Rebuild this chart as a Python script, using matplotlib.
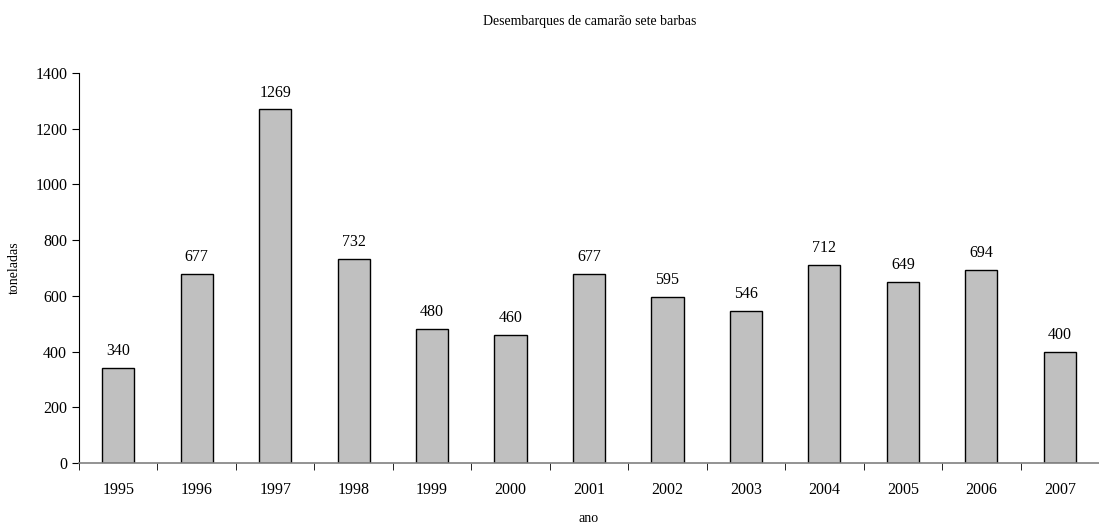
import matplotlib
matplotlib.use("Agg")
from matplotlib import pyplot as plt
import numpy as np

plt.rcParams['font.family'] = ['Liberation Serif', 'DejaVu Serif']

anos = ["1995", "1996", "1997", "1998", "1999", "2000", "2001",
        "2002", "2003", "2004", "2005", "2006", "2007"]
toneladas = [340, 677, 1269, 732, 480, 460, 677, 595, 546, 712, 649, 694, 400]

fig = plt.figure(figsize=(10.99, 5.25), dpi=100)
ax = fig.add_axes([79 / 1099, 62 / 525, 1 - 79 / 1099, 390 / 525])

x = np.arange(len(anos))
ax.bar(x, toneladas, width=0.41, color="#c0c0c0", edgecolor="black", linewidth=1, zorder=2)
for xi, v in zip(x, toneladas):
    ax.text(xi, v + 32, str(v), ha="center", va="bottom", fontsize=11.5)

ax.set_xlim(-0.5, len(anos) - 0.5)
ax.set_ylim(0, 1400)
ax.set_yticks(range(0, 1401, 200))
ax.set_xticks(x)
ax.set_xticklabels(anos, fontsize=11.5)
ax.set_xticks(np.arange(-0.5, len(anos)), minor=True)
ax.tick_params(axis="x", which="major", length=0, pad=14)
ax.tick_params(axis="x", which="minor", length=5, direction="out", color="black")
ax.tick_params(axis="y", labelsize=11.5, length=5, direction="out")

ax.spines["top"].set_visible(False)
ax.spines["right"].set_visible(False)
ax.spines["bottom"].set_color("#808080")
ax.spines["bottom"].set_linewidth(1.2)

ax.set_xlabel("ano", fontsize=10, labelpad=10)
ax.set_ylabel("toneladas", fontsize=10, labelpad=10)
fig.text(0.5 + 40 / 1099, 1 - 21 / 525, "Desembarques de camarão sete barbas",
         ha="center", va="center", fontsize=10)

fig.savefig("out.png", dpi=100)
